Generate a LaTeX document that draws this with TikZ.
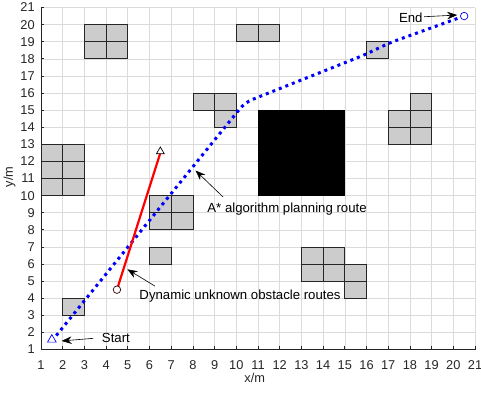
\documentclass[tikz,border=0pt]{standalone}
\usepackage{fontspec}
\setmainfont{Liberation Sans}
\usetikzlibrary{arrows.meta,shapes.geometric}
\begin{document}
\begin{tikzpicture}[x=21.7pt,y=17.1pt,
  gridline/.style={draw=black!14, line width=0.6pt},
  axisline/.style={draw=black!85, line width=0.7pt},
  obst/.style={fill=black!20, draw=black!85, line width=0.8pt},
  ticklab/.style={font=\fontsize{12.8}{15}\selectfont, text=black!85, inner sep=0pt},
  annot/.style={font=\fontsize{13.2}{15}\selectfont, inner sep=0pt},
  pointer/.style={-{Stealth[length=10pt,width=7.5pt]}, line width=0.6pt},
  astar/.style={blue, line width=3pt, dash pattern=on 3pt off 4pt},
  dyn/.style={red, line width=2.2pt},
  trimark/.style={regular polygon, regular polygon sides=3, minimum size=10pt, inner sep=0pt, fill=white, line width=0.7pt},
  circmark/.style={circle, minimum size=7.5pt, inner sep=0pt, fill=white, line width=0.7pt}]
\useasboundingbox (-0.889,-1.485) rectangle (21.276,21.439);
\fill[white] (-0.889,-1.485) rectangle (21.276,21.439);
% grid
\foreach \i in {1,...,21} {
  \draw[gridline] (\i,1) -- (\i,21);
  \draw[gridline] (1,\i) -- (21,\i);
}
% obstacles
\foreach \cx/\cy in {3/18,4/18,3/19,4/19,10/19,11/19,1/10,2/10,1/11,2/11,1/12,2/12,2/3,6/8,7/8,6/9,7/9,6/6,8/15,9/15,9/14,16/18,18/15,17/14,18/14,17/13,18/13,13/6,14/6,13/5,14/5,15/5,15/4}
  \draw[obst] (\cx,\cy) rectangle ++(1,1);
\fill[black] (11,10) rectangle (15,15);
% axes
\draw[axisline] (1,21) -- (1,1) -- (21,1);
\foreach \i in {1,...,21} {
  \draw[axisline] (\i,1) -- (\i,1.18);
  \draw[axisline] (1,\i) -- (1.14,\i);
  \node[ticklab] (xl\i) at (\i,0.1) {\i};
  \node[ticklab, anchor=east] (yl\i) at (0.72,\i) {\i};
}
\node[ticklab] (xlab) at (10.85,-0.66) {x/m};
\node[ticklab, rotate=90] (ylab) at (-0.45,11.1) {y/m};
% A* route
\coordinate (S) at (1.5,1.5);
\coordinate (E) at (20.5,20.5);
\draw[astar, rounded corners=8pt] (S) -- (10.4,15.45) -- (15.85,18.2) -- (17.1,18.95) -- (E);
\node[trimark, draw=blue] (startmk) at (1.5,1.58) {};
\node[circmark, draw=blue] (endmk) at (E) {};
% dynamic obstacle route
\coordinate (D1) at (4.5,4.5);
\coordinate (D2) at (6.5,12.5);
\draw[dyn] (D1) -- (D2);
\node[circmark, draw=black!80!red] (dynstart) at (D1) {};
\node[trimark, draw=black, minimum size=9pt] (dynend) at (6.5,12.58) {};
% annotations
\node[annot, anchor=west] (tstart) at (3.80,1.67) {Start};
\coordinate (st1) at (3.41,1.655);
\coordinate (st2) at (1.95,1.50);
\draw[pointer] (st1) -- (st2);
\node[annot, anchor=east] (tend) at (18.59,20.42) {End};
\coordinate (en1) at (18.65,20.46);
\coordinate (en2) at (20.18,20.56);
\draw[pointer] (en1) -- (en2);
\node[annot, anchor=west] (tastar) at (8.66,9.19) {A* algorithm planning route};
\coordinate (as1) at (9.39,9.92);
\coordinate (as2) at (8.12,11.47);
\draw[pointer] (as1) -- (as2);
\node[annot, anchor=west] (tdyn) at (5.53,4.10) {Dynamic unknown obstacle routes};
\coordinate (dy1) at (6.25,4.71);
\coordinate (dy2) at (4.98,5.69);
\draw[pointer] (dy1) -- (dy2);
\end{tikzpicture}
\end{document}
